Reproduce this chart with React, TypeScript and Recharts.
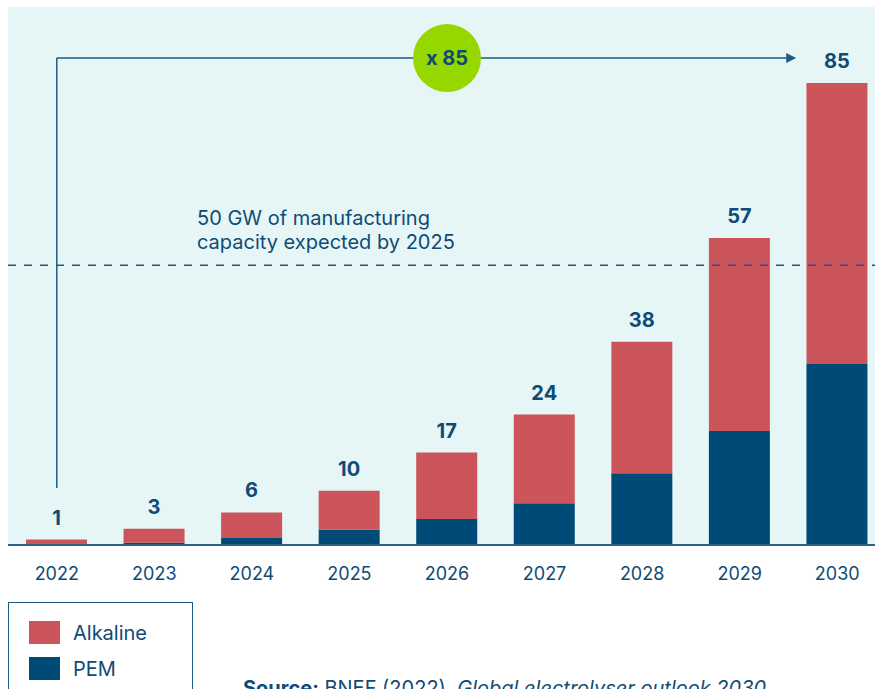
import { BarChart, Bar, XAxis, YAxis, CartesianGrid, LabelList, ReferenceLine, ReferenceDot } from 'recharts';

// electrolyser manufacturing capacity, GW per year
const years = ['2022', '2023', '2024', '2025', '2026', '2027', '2028', '2029', '2030'];
const pem = [0, 0.4, 1.3, 2.8, 4.8, 7.7, 13.2, 21, 33.3];
const alkaline = [1, 2.6, 4.7, 7.2, 12.2, 16.3, 24.2, 35.5, 51.7];
const totals = [1, 3, 6, 10, 17, 24, 38, 57, 85];

const manufacturingTarget = 51.5;
const arrowLevel = 89.6;
const arrowStart = 10.5;
const growthLabel = 'x 85';

const rows = years.map((year, i) => ({ year, pem: pem[i], alkaline: alkaline[i], total: totals[i] }));

const NAVY = '#004a77';
const RED = '#cc555b';
const TEXT = '#0f4b74';
const LINE = '#1d5b85';
const FONT = 'Inter, "Noto Sans", sans-serif';

function ArrowLine(props: any) {
  const { x1, y1, x2, y2 } = props;
  const end = x2 - 41;
  return (
    <g>
      <line x1={x1} y1={y1} x2={end - 8} y2={y2} stroke={LINE} strokeWidth={1.5} />
      <polygon points={`${end},${y2} ${end - 10},${y2 - 5} ${end - 10},${y2 + 5}`} fill={LINE} />
    </g>
  );
}

function TargetLabel(props: any) {
  const { viewBox } = props;
  const x = viewBox.x + 189;
  const y = viewBox.y;
  return (
    <text x={x} y={y} fill={TEXT} fontSize={20} fontFamily={FONT}>
      <tspan x={x} y={y - 40}>50 GW of manufacturing</tspan>
      <tspan x={x} y={y - 16}>capacity expected by 2025</tspan>
    </text>
  );
}

export default function App() {
  return (
    <div
      style={{
        position: 'fixed',
        left: 0,
        top: 0,
        width: 875,
        height: 689,
        overflow: 'hidden',
        background: '#fff',
        fontFamily: FONT,
      }}
    >
      <div style={{ position: 'absolute', left: 8, top: 7 }}>
        <BarChart width={878} height={588} data={rows} margin={{ top: 0, right: 0, left: 0, bottom: 0 }} barSize={61}>
          <CartesianGrid fill="#e6f6f7" stroke="none" horizontal={false} vertical={false} />
          <XAxis
            dataKey="year"
            height={50}
            tickLine={false}
            tickMargin={16}
            axisLine={{ stroke: '#2d6287', strokeWidth: 2 }}
            tick={{ fill: TEXT, fontSize: 18, fontFamily: FONT }}
          />
          <YAxis hide domain={[0, 99]} />
          <ReferenceLine
            y={manufacturingTarget}
            stroke={LINE}
            strokeWidth={1.5}
            strokeDasharray="8 8"
            label={<TargetLabel />}
          />
          <Bar dataKey="pem" stackId="a" fill={NAVY} isAnimationActive={false} />
          <Bar dataKey="alkaline" stackId="a" fill={RED} isAnimationActive={false}>
            <LabelList dataKey="total" position="top" offset={15} fill={TEXT} fontSize={20} fontWeight={700} fontFamily={FONT} />
          </Bar>
          <ReferenceLine
            segment={[{ x: '2022', y: arrowStart }, { x: '2022', y: arrowLevel }]}
            stroke={LINE}
            strokeWidth={1.5}
          />
          <ReferenceLine
            segment={[{ x: '2022', y: arrowLevel }, { x: '2030', y: arrowLevel }]}
            shape={<ArrowLine />}
          />
          <ReferenceDot
            x="2026"
            y={arrowLevel}
            r={34}
            fill="#97d700"
            stroke="none"
            label={{ value: growthLabel, position: 'center', fill: TEXT, fontSize: 20, fontWeight: 700, fontFamily: FONT }}
          />
        </BarChart>
      </div>
      <div
        style={{
          position: 'absolute',
          left: 8,
          top: 602,
          width: 185,
          height: 120,
          border: `1px solid ${LINE}`,
          boxSizing: 'border-box',
          padding: '18px 0 0 20px',
          color: TEXT,
          fontSize: 20,
        }}
      >
        {[
          { name: 'Alkaline', color: RED },
          { name: 'PEM', color: NAVY },
        ].map((item) => (
          <div key={item.name} style={{ display: 'flex', alignItems: 'center', height: 23, marginBottom: 13 }}>
            <span style={{ width: 31, height: 23, background: item.color, marginRight: 13 }} />
            <span>{item.name}</span>
          </div>
        ))}
      </div>
      <div style={{ position: 'absolute', left: 243, top: 676, fontSize: 20, color: TEXT, whiteSpace: 'nowrap' }}>
        <b>Source:</b> BNEF (2022), <i>Global electrolyser outlook 2030</i>
      </div>
    </div>
  );
}
